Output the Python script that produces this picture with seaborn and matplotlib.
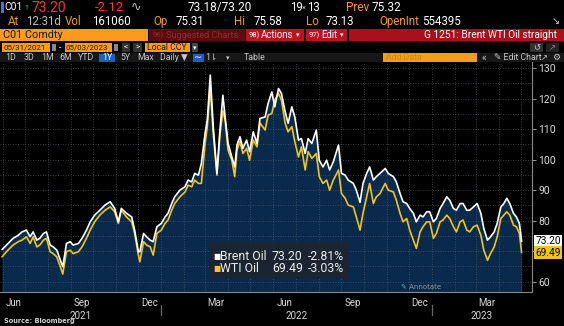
import matplotlib
matplotlib.use("Agg")
import matplotlib.pyplot as plt
import matplotlib.transforms as mtransforms
from matplotlib.patches import Rectangle
from matplotlib.lines import Line2D
import numpy as np
import pandas as pd
import seaborn as sns

# ---------------- data ----------------
dates = [
    "2021-05-31", "2021-06-06", "2021-06-15", "2021-06-22", "2021-06-27", "2021-07-03", "2021-07-08", "2021-07-12", "2021-07-17", "2021-07-21",
    "2021-07-26", "2021-07-30", "2021-08-04", "2021-08-08", "2021-08-13", "2021-08-17", "2021-08-21", "2021-08-26", "2021-08-31", "2021-09-04",
    "2021-09-11", "2021-09-16", "2021-09-22", "2021-09-27", "2021-10-03", "2021-10-10", "2021-10-17", "2021-10-24", "2021-10-30", "2021-11-04",
    "2021-11-08", "2021-11-15", "2021-11-22", "2021-11-26", "2021-12-01", "2021-12-03", "2021-12-08", "2021-12-12", "2021-12-17", "2021-12-21",
    "2021-12-26", "2022-01-01", "2022-01-06", "2022-01-10", "2022-01-15", "2022-01-19", "2022-01-26", "2022-02-02", "2022-02-06", "2022-02-11",
    "2022-02-15", "2022-02-20", "2022-02-24", "2022-03-01", "2022-03-04", "2022-03-08", "2022-03-12", "2022-03-17", "2022-03-21", "2022-03-25",
    "2022-03-28", "2022-04-01", "2022-04-06", "2022-04-10", "2022-04-13", "2022-04-17", "2022-04-21", "2022-04-26", "2022-04-30", "2022-05-05",
    "2022-05-10", "2022-05-14", "2022-05-21", "2022-05-25", "2022-05-30", "2022-06-03", "2022-06-08", "2022-06-12", "2022-06-17", "2022-06-21",
    "2022-06-26", "2022-06-30", "2022-07-05", "2022-07-09", "2022-07-14", "2022-07-18", "2022-07-23", "2022-07-29", "2022-08-02", "2022-08-07",
    "2022-08-12", "2022-08-16", "2022-08-21", "2022-08-28", "2022-09-01", "2022-09-06", "2022-09-10", "2022-09-17", "2022-09-21", "2022-09-26",
    "2022-09-30", "2022-10-05", "2022-10-09", "2022-10-14", "2022-10-18", "2022-10-23", "2022-10-30", "2022-11-03", "2022-11-10", "2022-11-14",
    "2022-11-19", "2022-11-23", "2022-11-28", "2022-12-02", "2022-12-07", "2022-12-11", "2022-12-16", "2022-12-20", "2022-12-25", "2022-12-29",
    "2023-01-03", "2023-01-07", "2023-01-12", "2023-01-16", "2023-01-21", "2023-01-25", "2023-01-30", "2023-02-03", "2023-02-08", "2023-02-12",
    "2023-02-17", "2023-02-21", "2023-02-26", "2023-03-03", "2023-03-08", "2023-03-12", "2023-03-17", "2023-03-21", "2023-03-26", "2023-03-30",
    "2023-04-04", "2023-04-08", "2023-04-12", "2023-04-16", "2023-04-21", "2023-04-25", "2023-04-29", "2023-05-02",
]
brent = [
    70.5, 72.0, 74.2, 75.2, 76.3, 76.9, 74.7, 76.3, 73.6, 74.2,
    75.8, 76.3, 72.0, 71.4, 70.3, 67.6, 64.9, 72.5, 73.1, 72.0,
    72.5, 74.2, 76.9, 79.6, 81.8, 83.4, 85.1, 86.2, 84.0, 79.6,
    84.0, 82.4, 81.2, 76.9, 69.8, 69.8, 75.8, 74.7, 73.6, 73.1,
    78.0, 79.1, 81.2, 82.4, 85.6, 87.8, 90.0, 91.1, 93.3, 92.7,
    95.5, 94.9, 98.8, 108.6, 113.0, 127.7, 110.8, 95.5, 109.7, 121.1,
    114.0, 105.3, 100.9, 97.6, 104.8, 107.5, 103.7, 106.4, 102.6, 109.1,
    105.3, 113.5, 114.0, 118.4, 122.2, 117.3, 123.3, 121.7, 115.7, 111.9,
    117.3, 114.0, 106.4, 106.9, 102.0, 106.9, 105.3, 109.7, 99.8, 97.6,
    99.8, 96.6, 99.3, 104.8, 95.5, 94.9, 93.3, 92.2, 90.0, 86.0,
    92.2, 95.5, 97.6, 93.3, 94.4, 95.5, 97.1, 95.5, 94.4, 92.7,
    88.9, 86.2, 85.6, 84.0, 82.4, 79.6, 81.8, 81.2, 82.9, 82.9,
    79.6, 80.7, 84.0, 85.6, 87.8, 86.7, 84.0, 83.4, 85.6, 85.6,
    83.4, 83.4, 84.5, 85.6, 82.4, 77.4, 73.6, 74.7, 76.3, 79.1,
    84.5, 85.6, 87.3, 85.6, 82.4, 81.2, 79.1, 73.2,
]
wti = [
    68.1, 69.8, 72.0, 73.1, 73.6, 74.7, 72.5, 74.7, 71.4, 72.0,
    73.6, 74.2, 69.8, 69.2, 68.1, 65.4, 62.5, 69.8, 70.3, 69.2,
    69.8, 71.4, 74.2, 76.9, 79.6, 81.8, 83.4, 84.5, 82.9, 79.1,
    83.4, 81.2, 79.6, 75.8, 68.7, 66.5, 73.1, 72.0, 71.4, 68.7,
    75.8, 76.9, 79.1, 80.2, 83.4, 85.6, 87.8, 89.4, 91.6, 91.1,
    93.3, 92.2, 92.2, 105.3, 110.8, 123.7, 108.6, 94.9, 108.0, 116.0,
    113.0, 103.1, 99.8, 94.4, 103.1, 105.9, 102.0, 103.7, 99.8, 106.4,
    104.2, 112.0, 109.7, 114.6, 115.1, 119.5, 121.7, 119.5, 111.9, 109.1,
    110.8, 105.9, 100.9, 104.2, 96.6, 102.6, 100.4, 102.0, 94.4, 92.2,
    93.3, 90.0, 93.3, 96.6, 88.9, 87.3, 85.1, 84.5, 81.2, 76.9,
    82.4, 87.8, 92.2, 85.6, 87.8, 88.9, 92.2, 90.0, 89.4, 86.7,
    82.4, 79.6, 80.7, 76.9, 73.6, 70.9, 76.3, 78.0, 79.6, 79.6,
    74.2, 75.8, 79.6, 80.2, 81.8, 80.7, 78.0, 76.3, 79.6, 80.2,
    76.9, 76.3, 78.0, 78.5, 75.2, 70.3, 67.0, 69.2, 71.4, 74.7,
    80.7, 81.8, 82.9, 81.8, 78.5, 78.0, 75.8, 69.5,
]
series_names = ["Brent Oil", "WTI Oil"]
last_values = ["73.20", "69.49"]
pct_changes = ["-2.81%", "-3.03%"]
last_numeric = [73.20, 69.49]
yticks = [60, 70, 80, 90, 100, 110, 120, 130]
ytick_labels = ["60", "", "80", "90", "100", "110", "120", "130"]  # 70 hidden under the tags
month_label_text = ["Jun", "Sep", "Dec", "Mar", "Jun", "Sep", "Dec", "Mar"]
month_label_dates = ["2021-06-16", "2021-09-16", "2021-12-16", "2022-03-16",
                     "2022-06-16", "2022-09-16", "2022-12-16", "2023-03-16"]
year_label_text = ["2021", "2022", "2023"]
year_label_dates = ["2021-09-14", "2022-07-02", "2023-03-09"]
year_breaks = ["2022-01-01", "2023-01-01"]

# ---------------- style ----------------
sns.set_theme(style="white")
plt.rcParams["font.family"] = ["Roboto", "DejaVu Sans"]

W, H = 564, 326
BG = "black"
NAVY = "#0a2a4d"
YEL = "#f0c419"
ORANGE = "#f99a1c"
GRID = "#5a6470"

def fx(x):
    return x / W

def fy(y):
    return 1 - y / H

fig = plt.figure(figsize=(W / 100, H / 100), dpi=100, facecolor=BG)

def rect(x0, y0, x1, y1, color, z=1):
    fig.patches.append(Rectangle((fx(x0), fy(y1)), (x1 - x0) / W, (y1 - y0) / H,
                                 transform=fig.transFigure, facecolor=color,
                                 edgecolor="none", zorder=z))

def txt(x, y, s, color, size, ha="left", weight="normal", family=None, z=3):
    kw = {}
    if family is not None:
        kw["family"] = family
    fig.text(fx(x), fy(y), s, color=color, fontsize=size, ha=ha, va="center",
             weight=weight, zorder=z, **kw)

# ---------------- chart ----------------
ax = fig.add_axes([0, fy(292), 532 / W, (292 - 62) / H])
ax.set_facecolor(BG)

df = pd.DataFrame({"date": pd.to_datetime(dates), "Brent Oil": brent, "WTI Oil": wti})
ymin, ymax = 56.6, 132.0
ax.fill_between(df["date"], df["Brent Oil"], ymin, color=NAVY, lw=0, zorder=1)
sns.lineplot(data=df, x="date", y="WTI Oil", color=YEL, lw=1.2, ax=ax, zorder=3)
sns.lineplot(data=df, x="date", y="Brent Oil", color="white", lw=1.2, ax=ax, zorder=4)

ax.set_xlim(pd.Timestamp("2021-05-28 08:00"), pd.Timestamp("2023-05-16"))
ax.set_ylim(ymin, ymax)
ax.set_xlabel("")
ax.set_ylabel("")

month_starts = pd.date_range("2021-06-01", "2023-05-01", freq="MS")
ax.set_xticks(month_starts)
ax.set_xticklabels([])
ax.set_yticks(yticks)
ax.set_yticklabels(ytick_labels)
ax.set_yticks(np.arange(60, 131, 5), minor=True)
ax.yaxis.tick_right()
ax.tick_params(axis="y", which="major", direction="out", length=3, width=0.7,
               color="#9a9a9a", labelcolor="#dcdcdc", labelsize=7.5, pad=1.5)
ax.tick_params(axis="y", which="minor", length=0)
ax.tick_params(axis="x", which="major", direction="out", length=2.5, width=0.7,
               color="#8a8a8a")
ax.set_axisbelow("line")
ax.grid(axis="y", which="both", color=GRID, ls=(0, (1, 2)), lw=0.6, alpha=0.8)
ax.grid(axis="x", which="major", color=GRID, ls=(0, (1, 2)), lw=0.6, alpha=0.8)
for side in ["left", "top"]:
    ax.spines[side].set_visible(False)
for side in ["right", "bottom"]:
    ax.spines[side].set_color("#8a8a8a")
    ax.spines[side].set_linewidth(0.8)

bt = mtransforms.blended_transform_factory(ax.transData, ax.transAxes)
for d, s in zip(month_label_dates, month_label_text):
    ax.text(pd.Timestamp(d), -0.028, s, transform=bt, ha="center", va="top",
            color="#d8d8d8", fontsize=7, clip_on=False)
for d, s in zip(year_label_dates, year_label_text):
    ax.text(pd.Timestamp(d), -0.083, s, transform=bt, ha="center", va="top",
            color="#d8d8d8", fontsize=7, clip_on=False)
for d in year_breaks:
    ax.add_line(Line2D([pd.Timestamp(d)] * 2, [-0.055, -0.10], transform=bt,
                       color="#6a6a6a", lw=0.9, clip_on=False))

# last-value tags on the right
rt = mtransforms.blended_transform_factory(ax.transAxes, ax.transData)
tag_colors = ["white", YEL]
for v, s, c in zip(last_numeric, last_values, tag_colors):
    ax.text(1.006, v, s, transform=rt, ha="left", va="center", color="black",
            fontsize=7.3, clip_on=False, zorder=10,
            bbox=dict(boxstyle="square,pad=0.12", facecolor=c, edgecolor="none"))

# legend box
fig.patches.append(Rectangle((fx(210), fy(278)), 140 / W, 36 / H,
                             transform=fig.transFigure, facecolor="#1c2531",
                             edgecolor="none", alpha=0.95, zorder=5))
for i, (name, val, pct, c) in enumerate(zip(series_names, last_values, pct_changes, tag_colors)):
    yy = 257 + i * 11.5
    txt(213, yy, "■", c, 5.5, family="DejaVu Sans", z=6)
    txt(219.5, yy, name, "#ececec", 8.8, z=6)
    txt(272, yy, val, "#ececec", 8.8, z=6)
    txt(308, yy, pct, "#ececec", 8.8, z=6)

# annotate tag
txt(401, 287, "✎ Annotate", "#8a9aab", 5, family=["DejaVu Sans"], z=6)

# source
txt(4, 320.5, "Source: Bloomberg", "#d0d0d0", 4.8, weight="bold", family="DejaVu Sans")

# ---------------- header ----------------
# row 1
rect(1, 2, 3.5, 13, "#2f7de1")
txt(4.5, 7.5, "C01", "white", 7.4)
txt(23.3, 7.5, "↑", "#22c55e", 5.2, family="DejaVu Sans")
txt(31, 7.5, "73.20", "#ff3535", 10.0)
txt(95, 7.5, "-2.12", "#ff3535", 9.5)
txt(131, 7, "∿", "#bdbdbd", 9, family="DejaVu Sans")
txt(188, 7.5, "73.18/73.20", "white", 8.5)
txt(290, 7.5, "19", "white", 8.3)
txt(301.5, 8, "×", "#bdbdbd", 5.5)
txt(307, 7.5, "13", "white", 8.3)
txt(346, 7.5, "Prev", ORANGE, 8.5)
txt(372, 7.5, "75.32", "white", 8.5)
# row 2
for x, s, c in [(8, "At", ORANGE), (26, "12:31d", "#bdbdbd"), (65, "Vol", ORANGE),
                (92, "161060", "white"), (153, "Op", ORANGE), (176, "75.31", "white"),
                (234, "Hi", ORANGE), (254, "75.58", "white"), (306, "Lo", ORANGE),
                (326, "73.13", "white"), (379, "OpenInt", ORANGE), (422, "554395", "white")]:
    txt(x, 21.5, s, c, 8.3)
txt(552, 21.5, "↘", "#cfcfcf", 7, family="DejaVu Sans")
# row 3
rect(0, 29, 148, 41, ORANGE)
txt(3, 35.3, "C01 Comdty", "#1a1a1a", 7.8)
rect(149, 29, 245, 41, "#5c0c0e")
txt(153, 35.3, "96)", "#8c2e2e", 5.5)
txt(166, 35.3, "Suggested Charts", "#8c2e2e", 6.6)
rect(246, 29, 304, 41, "#bd1320")
txt(248.5, 35.3, "98)", "white", 5.5)
txt(261, 35.3, "Actions", "white", 6.9)
txt(296, 35.3, "▾", "white", 5, family="DejaVu Sans")
rect(306, 29, 347, 41, "#bd1320")
txt(308.5, 35.3, "97)", "white", 5.5)
txt(321, 35.3, "Edit", "white", 6.9)
txt(340, 35.3, "▾", "white", 5, family="DejaVu Sans")
rect(349, 29, 564, 41, "#a8101c")
txt(557, 35.3, "G 1251: Brent WTI Oil straight", "white", 7.3, ha="right")
# row 4
rect(2, 43, 50, 52, ORANGE)
txt(3, 47.6, "05/31/2021", "#1a1a1a", 5.7)
rect(52, 44, 56, 51, "#8a8a8a")
txt(59, 47.6, "-", "white", 6.5)
rect(65, 43, 112, 52, ORANGE)
txt(66, 47.6, "05/03/2023", "#1a1a1a", 5.7)
rect(114, 44, 118, 51, "#8a8a8a")
rect(122, 43, 130, 52, "#333333")
txt(126, 47.6, "<", "white", 6, ha="center")
rect(133, 43, 142, 52, "#333333")
txt(137.5, 47.6, ">", "white", 6, ha="center")
rect(145, 43, 190, 52, ORANGE)
txt(147, 47.6, "Local CCY", "#1a1a1a", 6.3)
rect(192, 43, 198, 52, "#444444")
txt(195, 47.6, "▾", "white", 5, ha="center", family="DejaVu Sans")
rect(530, 43, 543, 52, "#333333")
txt(536.5, 47.6, "↺", "#d0d0d0", 6, ha="center", family="DejaVu Sans")
rect(546, 43, 559, 52, "#222222")
txt(552.5, 47.6, "↗", "#888888", 6, ha="center", family="DejaVu Sans")
# row 5
rect(0, 53, 564, 62, "#171717")
for x, s in [(11, "1D"), (29, "3D"), (48, "1M"), (66, "6M"), (86.5, "YTD"),
             (125, "5Y"), (145.5, "Max"), (173.5, "Daily ▼")]:
    txt(x, 57.6, s, "#c8c8c8", 6.3, ha="center")
rect(99, 53.5, 115, 61.5, "#1f5fc4")
txt(107, 57.6, "1Y", "white", 6.3, ha="center")
rect(193, 53.5, 204, 61.5, "#1f5fc4")
txt(198.5, 57.3, "∼", "white", 7, ha="center", family="DejaVu Sans")
txt(211, 57.6, "1⇂", "#c8c8c8", 6.3, ha="center", family=["Roboto", "DejaVu Sans"])
txt(228, 57.6, "▾", "#c8c8c8", 5, ha="center", family="DejaVu Sans")
txt(254.5, 57.6, "Table", "#c8c8c8", 6.3, ha="center")
rect(383, 53, 477, 62, ORANGE)
txt(386, 57.6, "Add Data", "#d9850f", 6.3)
txt(484, 57.6, "«", "#c8c8c8", 7, ha="center")
txt(494, 57.6, "✎ Edit Chart", "#c8c8c8", 6.3, family=["Roboto", "DejaVu Sans"])
txt(544, 57.6, "↗", "#c8c8c8", 6, ha="center", family="DejaVu Sans")
txt(556, 57.6, "⚙", "#c8c8c8", 6.5, ha="center", family="DejaVu Sans")

fig.savefig("out.png", dpi=100, facecolor=BG)
